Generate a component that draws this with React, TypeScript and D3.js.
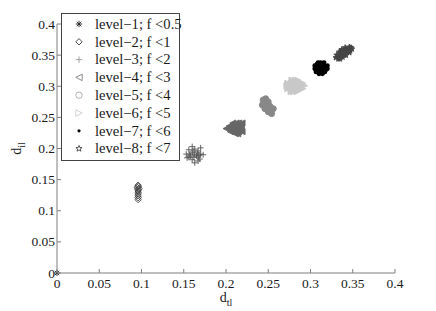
import React from "react";
import * as d3 from "d3";

type Pt = [number, number];

const levelLabels = [
  "level\u22121; f <0.5",
  "level\u22122; f <1",
  "level\u22123; f <2",
  "level\u22124; f <3",
  "level\u22125; f <4",
  "level\u22126; f <5",
  "level\u22127; f <6",
  "level\u22128; f <7",
];
const levelShapes = ["asterisk", "diamond", "plus", "triLeft", "circle", "triRight", "dot", "star"];
const levelColors = ["#222222", "#3c3c3c", "#555555", "#666666", "#888888", "#c8c8c8", "#000000", "#444444"];
const legendColors = ["#222222", "#3c3c3c", "#999999", "#808080", "#aaaaaa", "#cccccc", "#000000", "#444444"];

const level1: Pt[] = [[0, 0]];
const level2: Pt[] = [
  [0.096, 0.141], [0.096, 0.139], [0.095, 0.137], [0.097, 0.136], [0.096, 0.134],
  [0.096, 0.132], [0.096, 0.130], [0.096, 0.127], [0.096, 0.124], [0.096, 0.121], [0.096, 0.118],
];
const level3: Pt[] = [
  [0.153, 0.191], [0.156, 0.198], [0.156, 0.186], [0.160, 0.203], [0.160, 0.193],
  [0.160, 0.182], [0.163, 0.199], [0.163, 0.190], [0.163, 0.177], [0.167, 0.196],
  [0.167, 0.186], [0.167, 0.180], [0.170, 0.201], [0.170, 0.191], [0.169, 0.183],
  [0.154, 0.185], [0.162, 0.186], [0.166, 0.193], [0.157, 0.191], [0.173, 0.190],
  [0.165, 0.188], [0.161, 0.196], [0.168, 0.189], [0.158, 0.188],
];
const level4: Pt[] = [
  [0.208, 0.241], [0.212, 0.241], [0.215, 0.241], [0.219, 0.241],
  [0.2036, 0.236], [0.207, 0.236], [0.211, 0.236], [0.214, 0.236], [0.218, 0.236],
  [0.200, 0.232], [0.2036, 0.232], [0.207, 0.232], [0.211, 0.232], [0.214, 0.232], [0.218, 0.232],
  [0.205, 0.227], [0.208, 0.227], [0.212, 0.227], [0.215, 0.227], [0.219, 0.227],
  [0.211, 0.2235], [0.214, 0.2235],
];
const level5: Pt[] = [
  [0.244, 0.278], [0.246, 0.272], [0.249, 0.267], [0.252, 0.260], [0.254, 0.256],
  [0.247, 0.280], [0.250, 0.275], [0.252, 0.268], [0.256, 0.264],
  [0.243, 0.270], [0.246, 0.264], [0.250, 0.259],
  [0.245, 0.275], [0.247, 0.268], [0.251, 0.264], [0.253, 0.259],
];
const level6: Pt[] = [
  [0.278, 0.310], [0.282, 0.310], [0.285, 0.310],
  [0.273, 0.305], [0.277, 0.305], [0.280, 0.305], [0.284, 0.305], [0.288, 0.305], [0.291, 0.305],
  [0.272, 0.301], [0.276, 0.301], [0.279, 0.301], [0.283, 0.301], [0.286, 0.301], [0.290, 0.301], [0.293, 0.301],
  [0.273, 0.296], [0.277, 0.296], [0.280, 0.296], [0.284, 0.296], [0.288, 0.296], [0.291, 0.296],
  [0.277, 0.291], [0.280, 0.291], [0.284, 0.291],
];
const level7: Pt[] = [
  [0.309, 0.338], [0.312, 0.338], [0.316, 0.338],
  [0.305, 0.333], [0.309, 0.333], [0.312, 0.333], [0.316, 0.333], [0.320, 0.333],
  [0.305, 0.328], [0.309, 0.328], [0.312, 0.328], [0.316, 0.328], [0.320, 0.328],
  [0.3065, 0.323], [0.310, 0.323], [0.314, 0.323], [0.317, 0.323],
  [0.310, 0.320], [0.314, 0.320],
  [0.308, 0.336], [0.311, 0.334], [0.315, 0.331], [0.318, 0.326], [0.308, 0.326], [0.311, 0.325], [0.315, 0.322],
];
const level8: Pt[] = [
  [0.330, 0.346], [0.334, 0.349], [0.337, 0.352], [0.341, 0.355], [0.344, 0.359], [0.348, 0.362],
  [0.333, 0.344], [0.336, 0.347], [0.340, 0.350], [0.343, 0.354], [0.347, 0.357], [0.349, 0.360],
  [0.331, 0.350], [0.335, 0.354], [0.338, 0.357], [0.342, 0.360], [0.346, 0.363],
  [0.335, 0.344], [0.338, 0.347], [0.342, 0.350], [0.346, 0.354],
  [0.334, 0.355], [0.337, 0.359], [0.341, 0.362],
];
const levelData: Pt[][] = [level1, level2, level3, level4, level5, level6, level7, level8];

const tickValues = [0, 0.05, 0.1, 0.15, 0.2, 0.25, 0.3, 0.35, 0.4];
const tickLabels = ["0", "0.05", "0.1", "0.15", "0.2", "0.25", "0.3", "0.35", "0.4"];

const W = 436;
const H = 311;
const FONT = "Liberation Serif, Times New Roman, Times, serif";
const textStyle = { fontFamily: FONT };

function markerPath(shape: string, r: number): string {
  switch (shape) {
    case "asterisk": {
      const k = r * 0.72;
      return `M${-r},0H${r}M0,${-r}V${r}M${-k},${-k}L${k},${k}M${-k},${k}L${k},${-k}`;
    }
    case "diamond":
      return `M0,${-r}L${r},0L0,${r}L${-r},0Z`;
    case "plus":
      return `M${-r},0H${r}M0,${-r}V${r}`;
    case "triLeft":
      return `M${-r},0L${r},${-r}L${r},${r}Z`;
    case "triRight":
      return `M${r},0L${-r},${-r}L${-r},${r}Z`;
    case "star": {
      const pts: string[] = [];
      for (let i = 0; i < 10; i++) {
        const a = -Math.PI / 2 + (i * Math.PI) / 5;
        const rr = i % 2 === 0 ? r : r * 0.42;
        pts.push(`${(rr * Math.cos(a)).toFixed(2)},${(rr * Math.sin(a)).toFixed(2)}`);
      }
      return "M" + pts.join("L") + "Z";
    }
    default:
      return "";
  }
}

function Marker({ shape, color, x, y, filled, r }: { shape: string; color: string; x: number; y: number; filled: boolean; r: number }) {
  if (shape === "circle") {
    return <circle cx={x} cy={y} r={r} fill={filled ? color : "none"} stroke={color} strokeWidth={0.9} />;
  }
  if (shape === "dot") {
    return <circle cx={x} cy={y} r={filled ? 2.4 : 1.6} fill={color} />;
  }
  const lineOnly = shape === "plus" || shape === "asterisk";
  return (
    <path
      d={markerPath(shape, r)}
      transform={`translate(${x},${y})`}
      fill={filled && !lineOnly ? color : "none"}
      stroke={color}
      strokeWidth={0.9}
    />
  );
}

export default function App() {
  const x = d3.scaleLinear().domain([0, 0.4]).range([57, 395]);
  const y = d3.scaleLinear().domain([0, 0.4]).range([273, 24]);
  const axisColor = "#7f7f7f";
  const textColor = "#1a1a1a";

  const legendX = 61;
  const legendY = 13;
  const legendW = 118;
  const legendH = 147;
  const rowStep = 17.8;

  return (
    <svg width={W} height={H} style={{ display: "block", position: "absolute", left: 0, top: 0 }}>
      <rect x={0} y={0} width={W} height={H} fill="#ffffff" />
      {levelData.map((pts, li) =>
        pts.map((p, i) => (
          <Marker
            key={`${li}-${i}`}
            shape={levelShapes[li]}
            color={levelColors[li]}
            x={x(p[0])}
            y={y(p[1])}
            filled={li >= 3}
            r={li === 1 ? 3.2 : 3}
          />
        ))
      )}
      <line x1={x(0)} x2={x(0.4)} y1={y(0)} y2={y(0)} stroke={axisColor} strokeWidth={1} />
      <line x1={x(0)} x2={x(0)} y1={y(0)} y2={y(0.4)} stroke={axisColor} strokeWidth={1} />
      {tickValues.map((t, i) => (
        <g key={`xt${i}`}>
          <line x1={x(t)} x2={x(t)} y1={y(0)} y2={y(0) - 4} stroke={axisColor} />
          <text x={x(t)} y={288} textAnchor="middle" fontSize={13.5} fill={textColor} style={textStyle}>
            {tickLabels[i]}
          </text>
        </g>
      ))}
      {tickValues.map((t, i) => (
        <g key={`yt${i}`}>
          <line x1={x(0)} x2={x(0) + 4} y1={y(t)} y2={y(t)} stroke={axisColor} />
          <text x={55} y={y(t) + 4.5} textAnchor="end" fontSize={13.5} fill={textColor} style={textStyle}>
            {tickLabels[i]}
          </text>
        </g>
      ))}
      <text x={(x(0) + x(0.4)) / 2} y={302} textAnchor="middle" fontSize={14} fill={textColor} style={textStyle}>
        d<tspan fontSize={10} dy={4}>tl</tspan>
      </text>
      <text
        transform={`translate(21,${(y(0) + y(0.4)) / 2}) rotate(-90)`}
        textAnchor="middle"
        fontSize={14}
        fill={textColor}
        style={textStyle}
      >
        d<tspan fontSize={10} dy={4}>il</tspan>
      </text>
      <rect x={legendX + 0.5} y={legendY + 0.5} width={legendW} height={legendH} fill="#ffffff" stroke="#444444" strokeWidth={1} />
      {levelLabels.map((lab, i) => {
        const cy = legendY + 11 + i * rowStep;
        return (
          <g key={`lg${i}`}>
            <Marker shape={levelShapes[i]} color={legendColors[i]} x={79} y={cy} filled={false} r={3.2} />
            <text x={95} y={cy + 4.8} fontSize={14.6} fill={textColor} style={textStyle}>
              {lab}
            </text>
          </g>
        );
      })}
    </svg>
  );
}
